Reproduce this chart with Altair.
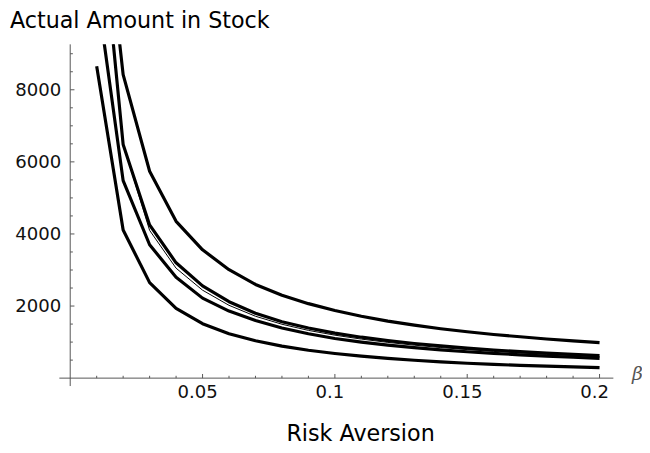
import altair as alt
import pandas as pd

# ---- data ----
beta = [0.01, 0.02, 0.03, 0.04, 0.05, 0.06, 0.07, 0.08, 0.09, 0.10,
        0.11, 0.12, 0.13, 0.14, 0.15, 0.16, 0.17, 0.18, 0.19, 0.20]

stock_low = [8650, 4110, 2650, 1938, 1510, 1233, 1036, 888, 774, 685,
             609, 548, 496, 450, 412, 381, 355, 332, 312, 293]
stock_mid_low = [10800, 5480, 3700, 2800, 2220, 1860, 1600, 1390, 1230, 1100,
                 1000, 915, 845, 785, 733, 687, 647, 611, 579, 550]
stock_thin = [14000, 6485, 4100, 3050, 2440, 2020, 1717, 1495, 1325, 1192,
              1083, 992, 915, 849, 792, 742, 698, 659, 624, 592]
stock_mid_high = [14000, 6485, 4250, 3200, 2560, 2120, 1800, 1565, 1390, 1250,
                  1136, 1040, 960, 893, 833, 781, 735, 694, 658, 625]
stock_high = [15000, 8420, 5740, 4350, 3560, 3010, 2600, 2300, 2067, 1875,
              1718, 1583, 1469, 1371, 1287, 1212, 1147, 1086, 1032, 985]

x_major = [0.05, 0.1, 0.15, 0.2]
x_major_labels = ["0.05", "0.1", "0.15", "0.2"]
x_minor = [0.01, 0.02, 0.03, 0.04, 0.06, 0.07, 0.08, 0.09, 0.11, 0.12,
           0.13, 0.14, 0.16, 0.17, 0.18, 0.19]
y_major = [2000, 4000, 6000, 8000]
y_major_labels = ["2000", "4000", "6000", "8000"]
y_minor = [500, 1000, 1500, 2500, 3000, 3500, 4500, 5000, 5500,
           6500, 7000, 7500, 8500, 9000]

title_text = "Actual Amount in Stock"
x_title = "Risk Aversion"
x_symbol = "β"

# ---- scales (plot area: 561 x 346 px) ----
W, H = 561, 346
xdom = [-0.0041045, 0.20522]
ydom = [-219.18, 9260.27]
xs = alt.Scale(domain=xdom, nice=False, zero=False)
ys = alt.Scale(domain=ydom, nice=False, zero=False)

X_TICK_MINOR, X_TICK_MAJOR = 65, 115        # tick length in data units of y
Y_TICK_MINOR, Y_TICK_MAJOR = 0.0010, 0.0016  # tick length in data units of x

# ---- build tables ----
thick_series = {"low": stock_low, "mid_low": stock_mid_low,
                "mid_high": stock_mid_high, "high": stock_high}
rows = []
for name, vals in thick_series.items():
    for b, v in zip(beta, vals):
        rows.append({"beta": b, "stock": v, "series": name})
thick_df = pd.DataFrame(rows)
thin_df = pd.DataFrame({"beta": beta, "stock": stock_thin})

xmaj_df = pd.DataFrame({"v": x_major, "label": x_major_labels})
xmaj_df["y0"] = 0.0
xmaj_df["y1"] = float(X_TICK_MAJOR)
xmin_df = pd.DataFrame({"v": x_minor})
xmin_df["y0"] = 0.0
xmin_df["y1"] = float(X_TICK_MINOR)
ymaj_df = pd.DataFrame({"v": y_major, "label": y_major_labels})
ymaj_df["x0"] = 0.0
ymaj_df["x1"] = Y_TICK_MAJOR
ymin_df = pd.DataFrame({"v": y_minor})
ymin_df["x0"] = 0.0
ymin_df["x1"] = Y_TICK_MINOR

xline_df = pd.DataFrame({"a": [xdom[0]], "b": [xdom[1]], "c": [0.0]})
yline_df = pd.DataFrame({"a": [ydom[0]], "b": [ydom[1]], "c": [0.0]})

AXIS_COLOR = "#555555"
FONT = "DejaVu Sans"

thick = alt.Chart(thick_df).mark_line(
    color="black", strokeWidth=3.2, clip=True, strokeJoin="round"
).encode(
    x=alt.X("beta:Q", scale=xs, axis=None),
    y=alt.Y("stock:Q", scale=ys, axis=None),
    detail="series:N",
)

thin = alt.Chart(thin_df).mark_line(
    color="black", strokeWidth=1.0, clip=True
).encode(
    x=alt.X("beta:Q", scale=xs, axis=None),
    y=alt.Y("stock:Q", scale=ys, axis=None),
)

x_axis_line = alt.Chart(xline_df).mark_rule(color=AXIS_COLOR, strokeWidth=1).encode(
    x=alt.X("a:Q", scale=xs, axis=None), x2="b:Q",
    y=alt.Y("c:Q", scale=ys, axis=None),
)
y_axis_line = alt.Chart(yline_df).mark_rule(color=AXIS_COLOR, strokeWidth=1).encode(
    y=alt.Y("a:Q", scale=ys, axis=None), y2="b:Q",
    x=alt.X("c:Q", scale=xs, axis=None),
)

x_minor_ticks = alt.Chart(xmin_df).mark_rule(color=AXIS_COLOR, strokeWidth=1).encode(
    x=alt.X("v:Q", scale=xs, axis=None),
    y=alt.Y("y0:Q", scale=ys, axis=None), y2="y1:Q",
)
x_major_ticks = alt.Chart(xmaj_df).mark_rule(color=AXIS_COLOR, strokeWidth=1).encode(
    x=alt.X("v:Q", scale=xs, axis=None),
    y=alt.Y("y0:Q", scale=ys, axis=None), y2="y1:Q",
)
y_minor_ticks = alt.Chart(ymin_df).mark_rule(color=AXIS_COLOR, strokeWidth=1).encode(
    y=alt.Y("v:Q", scale=ys, axis=None),
    x=alt.X("x0:Q", scale=xs, axis=None), x2="x1:Q",
)
y_major_ticks = alt.Chart(ymaj_df).mark_rule(color=AXIS_COLOR, strokeWidth=1).encode(
    y=alt.Y("v:Q", scale=ys, axis=None),
    x=alt.X("x0:Q", scale=xs, axis=None), x2="x1:Q",
)

x_labels = alt.Chart(xmaj_df).mark_text(
    font=FONT, fontSize=18.3, color="#111111", align="center",
    baseline="alphabetic", dx=-5, dy=20
).encode(
    x=alt.X("v:Q", scale=xs, axis=None),
    y=alt.Y("y0:Q", scale=ys, axis=None),
    text="label:N",
)

y_labels = alt.Chart(ymaj_df).mark_text(
    font=FONT, fontSize=18.3, color="#111111", align="right",
    baseline="middle", dx=-9, dy=1
).encode(
    y=alt.Y("v:Q", scale=ys, axis=None),
    x=alt.X("x0:Q", scale=xs, axis=None),
    text="label:N",
)

title_mark = alt.Chart(pd.DataFrame({"t": [title_text]})).mark_text(
    font=FONT, fontSize=22.5, color="black", align="left", baseline="alphabetic"
).encode(x=alt.value(-50), y=alt.value(-17), text="t:N")

x_title_mark = alt.Chart(pd.DataFrame({"t": [x_title]})).mark_text(
    font=FONT, fontSize=22.5, color="black", align="center", baseline="alphabetic"
).encode(x=alt.value(305), y=alt.value(402), text="t:N")

beta_mark = alt.Chart(pd.DataFrame({"t": [x_symbol]})).mark_text(
    font="DejaVu Serif", fontSize=19, fontStyle="italic", color="#555555",
    align="left", baseline="middle"
).encode(x=alt.value(580), y=alt.value(334), text="t:N")

chart = alt.layer(
    x_axis_line, y_axis_line, x_minor_ticks, x_major_ticks, y_minor_ticks,
    y_major_ticks, thin, thick, x_labels, y_labels, title_mark, x_title_mark,
    beta_mark,
).properties(
    width=W, height=H,
    autosize=alt.AutoSizeParams(type="none"),
    padding={"left": 52, "top": 34, "right": 29, "bottom": 65},
    background="white",
).configure_view(stroke=None)

chart.save("out.html", embed_options={"renderer": "svg", "actions": False})
